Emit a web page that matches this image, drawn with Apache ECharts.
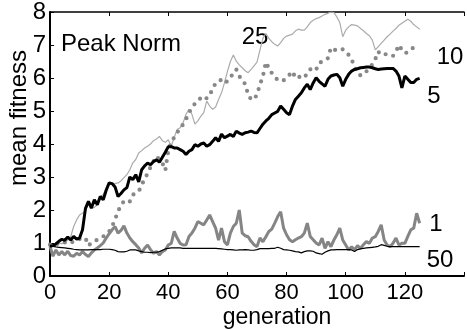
<!DOCTYPE html>
<html>
<head>
<meta charset="utf-8">
<script src="https://cdn.jsdelivr.net/npm/echarts@6/dist/echarts.min.js"></script>
<style>
  html, body { margin: 0; padding: 0; background: #fff; }
  #chart { width: 467px; height: 330px; }
</style>
</head>
<body>
<div id="chart"></div>
<script>
// generation index shared by every curve
const generations = [
  0,1,2,3,4,5,6,7,8,9,10,11,12,13,14,15,16,17,18,19,
  20,21,22,23,24,25,26,27,28,29,30,31,32,33,34,35,36,37,38,39,
  40,41,42,43,44,45,46,47,48,49,50,51,52,53,54,55,56,57,58,59,
  60,61,62,63,64,65,66,67,68,69,70,71,72,73,74,75,76,77,78,79,
  80,81,82,83,84,85,86,87,88,89,90,91,92,93,94,95,96,97,98,99,
  100,101,102,103,104,105,106,107,108,109,110,111,112,113,114,115,116,117,118,119,
  120,121,122,123,124,125
];

// mean fitness, one series per population label
const fit25 = [
  0.95,0.9,0.95,1.0,0.98,1.02,1.09,1.19,1.5,1.7,1.85,1.9,1.98,2.21,2.05,2.08,2.16,2.41,2.46,2.66,
  2.82,2.77,2.8,2.82,2.88,2.98,3.07,3.22,3.43,3.53,3.73,3.8,3.88,3.93,4.0,4.1,4.15,4.23,4.1,4.05,
  4.13,3.93,4.2,4.44,4.49,4.64,4.9,5.05,4.9,4.6,4.7,4.84,4.95,5.3,5.15,5.05,5.12,5.35,5.55,5.85,
  6.2,6.5,6.7,6.51,6.4,6.31,6.22,6.16,6.26,6.37,6.48,6.85,7.2,7.35,7.2,7.1,7.02,6.97,7.07,7.2,
  7.27,7.3,7.33,7.43,7.48,7.45,7.45,7.55,7.68,7.75,7.8,7.83,7.88,7.93,7.96,8.0,7.98,7.85,7.68,7.25,
  7.45,7.55,7.62,7.6,7.58,7.5,7.43,7.35,7.28,7.15,6.85,6.95,7.05,7.15,7.25,7.33,7.42,7.5,7.6,7.66,
  7.72,7.78,7.72,7.62,7.55,7.48
];
const fit10 = [
  0.95,0.92,0.95,1.0,0.98,1.02,0.98,1.0,1.05,1.1,1.12,1.15,1.15,0.92,1.0,1.05,1.1,1.15,1.2,1.25,
  1.35,1.5,1.72,1.95,2.16,2.26,2.31,2.26,2.46,2.51,2.56,2.75,2.95,3.1,3.3,3.47,3.63,3.53,3.43,3.2,
  3.8,4.05,4.2,4.35,4.45,4.6,4.75,4.95,5.1,5.22,5.3,5.4,5.45,5.38,5.5,5.65,5.85,5.9,5.95,5.85,
  5.9,6.01,6.15,6.26,6.05,5.96,5.81,5.5,5.35,5.35,5.5,5.8,6.05,6.48,6.3,6.15,6.05,5.93,5.91,5.93,
  6.0,6.1,6.2,6.0,6.0,6.1,6.05,6.1,6.26,6.31,6.25,6.45,6.5,6.53,6.6,6.92,6.87,6.82,6.85,6.87,
  6.8,6.7,6.55,6.37,6.15,6.08,6.1,6.2,6.3,6.41,6.57,6.8,6.7,6.72,6.72,6.72,6.67,6.8,7.0,6.85,
  6.75,6.78,6.87,6.92,6.97,6.97
];
const fit5 = [
  0.9,0.92,0.97,1.05,1.11,1.08,1.18,1.09,1.2,1.12,1.15,1.4,2.05,2.26,2.06,2.31,2.16,2.41,2.31,2.6,
  2.82,2.8,2.7,2.41,2.5,2.61,2.68,3.0,2.92,3.07,2.85,3.22,3.34,3.42,3.37,3.47,3.52,3.45,3.6,3.75,
  3.92,3.92,3.88,3.88,3.83,3.78,3.68,3.78,3.83,3.98,3.93,4.0,4.03,3.93,3.98,4.08,4.19,4.08,4.3,4.19,
  4.24,4.29,4.23,4.39,4.33,4.29,4.34,4.36,4.39,4.35,4.34,4.47,4.6,4.7,4.78,4.89,4.94,4.99,5.15,5.05,
  4.95,4.89,5.15,5.35,5.45,5.55,5.7,5.81,5.65,5.85,6.01,5.9,5.82,5.75,5.96,6.06,6.09,6.11,6.01,5.75,
  5.96,6.11,6.21,6.26,6.28,6.31,6.32,6.33,6.33,6.31,6.28,6.26,6.27,6.28,6.29,6.29,6.29,6.21,6.06,5.7,
  6.06,5.96,5.86,5.86,5.96,5.99
];
const fit1 = [
  0.9,0.6,0.79,0.64,0.74,0.64,0.75,0.62,0.6,0.69,0.64,0.74,0.65,0.59,0.7,0.79,0.85,0.92,1.0,1.15,
  1.28,1.4,1.5,1.3,1.38,1.52,1.3,1.15,1.04,0.95,0.85,0.7,0.84,0.94,0.8,0.69,0.74,0.64,0.74,0.79,
  0.94,0.99,1.35,1.15,0.99,0.94,0.95,1.2,1.3,1.45,1.65,1.6,1.55,1.7,1.85,1.65,1.45,1.09,1.45,1.04,
  0.94,1.3,1.5,1.6,2.0,1.3,1.22,1.19,1.05,0.95,0.89,1.15,1.04,1.19,1.35,1.42,1.6,1.8,1.95,1.45,
  1.25,1.1,1.04,1.1,1.15,1.19,1.3,1.6,1.2,1.1,1.0,0.94,1.15,0.84,1.04,0.89,1.09,1.25,1.45,1.09,
  0.94,0.79,0.89,0.79,0.92,0.84,0.95,1.04,0.99,1.15,1.19,1.35,1.55,1.09,0.94,0.89,0.99,1.15,0.94,0.99,
  0.99,1.2,1.4,1.45,1.9,1.6
];
const fit50 = [
  0.92,0.9,0.88,0.87,0.86,0.85,0.84,0.83,0.81,0.8,0.79,0.79,0.79,0.79,0.8,0.8,0.8,0.8,0.81,0.81,
  0.81,0.8,0.78,0.74,0.73,0.73,0.75,0.79,0.79,0.79,0.76,0.74,0.72,0.72,0.71,0.72,0.72,0.74,0.78,0.82,
  0.84,0.85,0.85,0.85,0.85,0.84,0.84,0.84,0.84,0.84,0.84,0.84,0.84,0.84,0.84,0.84,0.84,0.83,0.82,0.81,
  0.8,0.8,0.79,0.78,0.79,0.79,0.8,0.79,0.78,0.78,0.8,0.83,0.83,0.83,0.83,0.84,0.84,0.87,0.84,0.8,
  0.79,0.78,0.76,0.74,0.73,0.7,0.74,0.76,0.76,0.75,0.7,0.68,0.66,0.72,0.76,0.79,0.79,0.8,0.8,0.8,
  0.8,0.8,0.79,0.74,0.8,0.82,0.84,0.85,0.86,0.87,0.88,0.9,0.95,0.93,0.9,0.89,0.89,0.89,0.89,0.89,
  0.89,0.89,0.89,0.89,0.89,0.89
];

const font = 'Liberation Sans, Arial, sans-serif';
const pairs = (ys) => generations.map((g, i) => [g, ys[i]]);

const chart = echarts.init(document.getElementById('chart'), null, { renderer: 'canvas' });

chart.setOption({
  animation: false,
  backgroundColor: '#fff',
  grid: { left: 50, top: 11, right: -4, bottom: 54 },
  xAxis: [
    {
      type: 'value', min: 0, max: 140, interval: 20,
      axisLine: { lineStyle: { color: '#000', width: 2 } },
      axisTick: { inside: true, length: 4, lineStyle: { color: '#000', width: 1 } },
      axisLabel: { color: '#000', fontSize: 22, fontFamily: font, margin: 6,
        formatter: v => (v > 120 ? '' : v) },
      splitLine: { show: false }
    },
    {
      type: 'value', position: 'top', min: 0, max: 140, interval: 20,
      axisLine: { show: true, lineStyle: { color: '#000', width: 1.5 } },
      axisTick: { inside: true, length: 4, lineStyle: { color: '#000', width: 1 } },
      axisLabel: { show: false },
      splitLine: { show: false }
    }
  ],
  yAxis: {
    type: 'value', min: 0, max: 8, interval: 1,
    axisLine: { show: true, lineStyle: { color: '#000', width: 2 } },
    axisTick: { show: true, inside: true, length: 4, lineStyle: { color: '#000', width: 1 } },
    axisLabel: { color: '#000', fontSize: 24, fontFamily: font, margin: 4, padding: [8, 0, 0, 0] },
    splitLine: { show: false }
  },
  series: [
    { name: '25', type: 'line', data: pairs(fit25), showSymbol: false,
      lineStyle: { color: '#ababab', width: 1.2 }, z: 2 },
    { name: '10', type: 'line', data: pairs(fit10), showSymbol: false,
      lineStyle: { color: '#888', width: 4.2, type: [0, 8], cap: 'round' }, z: 3 },
    { name: '1', type: 'line', data: pairs(fit1), showSymbol: false,
      lineStyle: { color: '#858585', width: 3 }, z: 3 },
    { name: '50', type: 'line', data: pairs(fit50), showSymbol: false,
      lineStyle: { color: '#000', width: 1.2 }, z: 4 },
    { name: '5', type: 'line', data: pairs(fit5), showSymbol: false,
      lineStyle: { color: '#000', width: 3 }, z: 5 }
  ],
  graphic: [
    { type: 'text', left: 61, top: 32, style: { text: 'Peak Norm', font: '24px ' + font, fill: '#000' } },
    { type: 'text', x: 255, y: 37, style: { text: '25', font: '24px ' + font, fill: '#000', align: 'center', verticalAlign: 'middle' } },
    { type: 'text', x: 450, y: 57, style: { text: '10', font: '24px ' + font, fill: '#000', align: 'center', verticalAlign: 'middle' } },
    { type: 'text', x: 434, y: 96, style: { text: '5', font: '24px ' + font, fill: '#000', align: 'center', verticalAlign: 'middle' } },
    { type: 'text', x: 436, y: 224, style: { text: '1', font: '24px ' + font, fill: '#000', align: 'center', verticalAlign: 'middle' } },
    { type: 'text', x: 440, y: 260, style: { text: '50', font: '24px ' + font, fill: '#000', align: 'center', verticalAlign: 'middle' } },
    { type: 'text', x: 277, y: 318, style: { text: 'generation', font: '23px ' + font, fill: '#000', align: 'center', verticalAlign: 'middle' } },
    { type: 'text', x: 19, y: 118, rotation: Math.PI / 2,
      style: { text: 'mean fitness', font: '24px ' + font, fill: '#000', align: 'center', verticalAlign: 'middle' } }
  ]
});
</script>
</body>
</html>
